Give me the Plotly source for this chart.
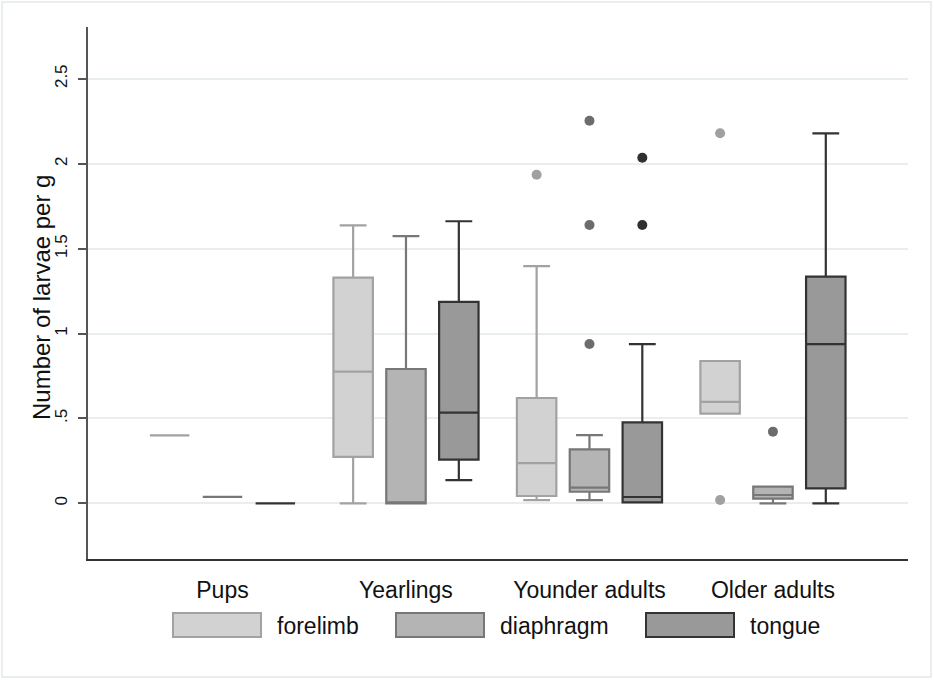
import plotly.graph_objects as go

# ---------------- data ----------------
groups = ["Pups", "Yearlings", "Younder adults", "Older adults"]
series = ["forelimb", "diaphragm", "tongue"]

forelimb_q1 = [0.40, 0.274, 0.043, 0.528]
forelimb_median = [0.40, 0.775, 0.237, 0.597]
forelimb_q3 = [0.40, 1.329, 0.620, 0.838]
forelimb_lower = [0.40, 0.0, 0.019, 0.528]
forelimb_upper = [0.40, 1.637, 1.397, 0.838]
forelimb_outliers = [[], [], [1.935], [2.179, 0.019]]

diaphragm_q1 = [0.038, 0.0, 0.068, 0.027]
diaphragm_median = [0.038, 0.0, 0.092, 0.049]
diaphragm_q3 = [0.038, 0.791, 0.318, 0.098]
diaphragm_lower = [0.038, 0.0, 0.019, 0.0]
diaphragm_upper = [0.038, 1.574, 0.402, 0.098]
diaphragm_outliers = [[], [], [2.253, 1.639, 0.938], [0.422]]

tongue_q1 = [0.0, 0.257, 0.006, 0.088]
tongue_median = [0.0, 0.534, 0.037, 0.938]
tongue_q3 = [0.0, 1.186, 0.477, 1.335]
tongue_lower = [0.0, 0.137, 0.006, 0.0]
tongue_upper = [0.0, 1.661, 0.938, 2.179]
tongue_outliers = [[], [], [2.035, 1.639], []]

y_tick_vals = [0, 0.5, 1, 1.5, 2, 2.5]
y_tick_text = ["0", ".5", "1", "1.5", "2", "2.5"]
y_title = "Number of larvae per g"

# ---------------- styles ----------------
fills = ["#d2d2d2", "#b4b4b4", "#999999"]
edges = ["#a2a2a2", "#777777", "#333333"]
dots = ["#a0a0a0", "#6c6c6c", "#303030"]
offset = 0.288
box_w = 0.215
FONT = "Arial, Liberation Sans, sans-serif"

stats = {
    "forelimb": (forelimb_q1, forelimb_median, forelimb_q3, forelimb_lower, forelimb_upper, forelimb_outliers),
    "diaphragm": (diaphragm_q1, diaphragm_median, diaphragm_q3, diaphragm_lower, diaphragm_upper, diaphragm_outliers),
    "tongue": (tongue_q1, tongue_median, tongue_q3, tongue_lower, tongue_upper, tongue_outliers),
}

fig = go.Figure()
for si, name in enumerate(series):
    q1, med, q3, lo, hi, outs = stats[name]
    xs = [gi + (si - 1) * offset for gi in range(len(groups))]
    fig.add_trace(go.Box(
        x=xs, q1=q1, median=med, q3=q3, lowerfence=lo, upperfence=hi,
        name=name, width=box_w, whiskerwidth=0.68,
        fillcolor=fills[si], line=dict(color=edges[si], width=2.2),
        boxpoints=False, showlegend=False, hoverinfo="skip",
    ))
    ox, oy = [], []
    for gi, vals in enumerate(outs):
        for v in vals:
            ox.append(gi + (si - 1) * offset)
            oy.append(v)
    fig.add_trace(go.Scatter(
        x=ox, y=oy, mode="markers", showlegend=False,
        marker=dict(color=dots[si], size=10, line=dict(width=0)),
        hoverinfo="skip",
    ))

# ---------------- layout ----------------
W, H = 934, 680
ml, mr, mt, mb = 88, 26, 27, 121
pw, ph = W - ml - mr, H - mt - mb


def px(x):
    return (x - ml) / pw


def py(y):
    return (H - mb - y) / ph


shapes = [dict(type="rect", xref="paper", yref="paper",
               x0=px(2), x1=px(931), y0=py(677), y1=py(2),
               line=dict(color="#e2eaea", width=1.5), layer="below")]
annotations = []
legend_x = [173, 396, 646]
for si, name in enumerate(series):
    x0 = legend_x[si]
    shapes.append(dict(type="rect", xref="paper", yref="paper",
                       x0=px(x0), x1=px(x0 + 88), y0=py(637), y1=py(613),
                       fillcolor=fills[si], line=dict(color=edges[si], width=2)))
    annotations.append(dict(xref="paper", yref="paper", x=px(x0 + 102), y=py(626),
                            text=name, showarrow=False, xanchor="left", yanchor="middle",
                            font=dict(size=23, color="#111111", family=FONT)))

annotations.append(dict(xref="paper", yref="paper", x=px(41), y=py(298),
                        text=y_title, textangle=-90, showarrow=False,
                        xanchor="center", yanchor="middle",
                        font=dict(size=24, color="#111111", family=FONT)))

fig.update_layout(
    width=W, height=H,
    margin=dict(l=ml, r=mr, t=mt, b=mb),
    paper_bgcolor="white", plot_bgcolor="white",
    boxmode="overlay", showlegend=False,
    shapes=shapes, annotations=annotations,
    font=dict(family=FONT, color="#111111"),
)
fig.update_xaxes(
    range=[-0.733, 3.736], tickvals=list(range(len(groups))), ticktext=groups,
    showgrid=False, zeroline=False, showline=True, linecolor="#333333", linewidth=1.5,
    ticks="", ticklabelstandoff=10, tickfont=dict(size=23, color="#111111"),
)
fig.update_yaxes(
    range=[-0.328, 2.805], tickvals=y_tick_vals, ticktext=y_tick_text,
    tickangle=-90, showgrid=True, gridcolor="#e8eeee", gridwidth=1.5,
    zeroline=False, showline=True, linecolor="#555555", linewidth=1.5,
    ticks="outside", ticklen=8, tickwidth=1.5, tickcolor="#555555",
    ticklabelstandoff=4, tickfont=dict(size=17, color="#111111"),
)

fig.write_html("out.html", config={"displayModeBar": False},
               post_script="document.body.style.margin='0';")
